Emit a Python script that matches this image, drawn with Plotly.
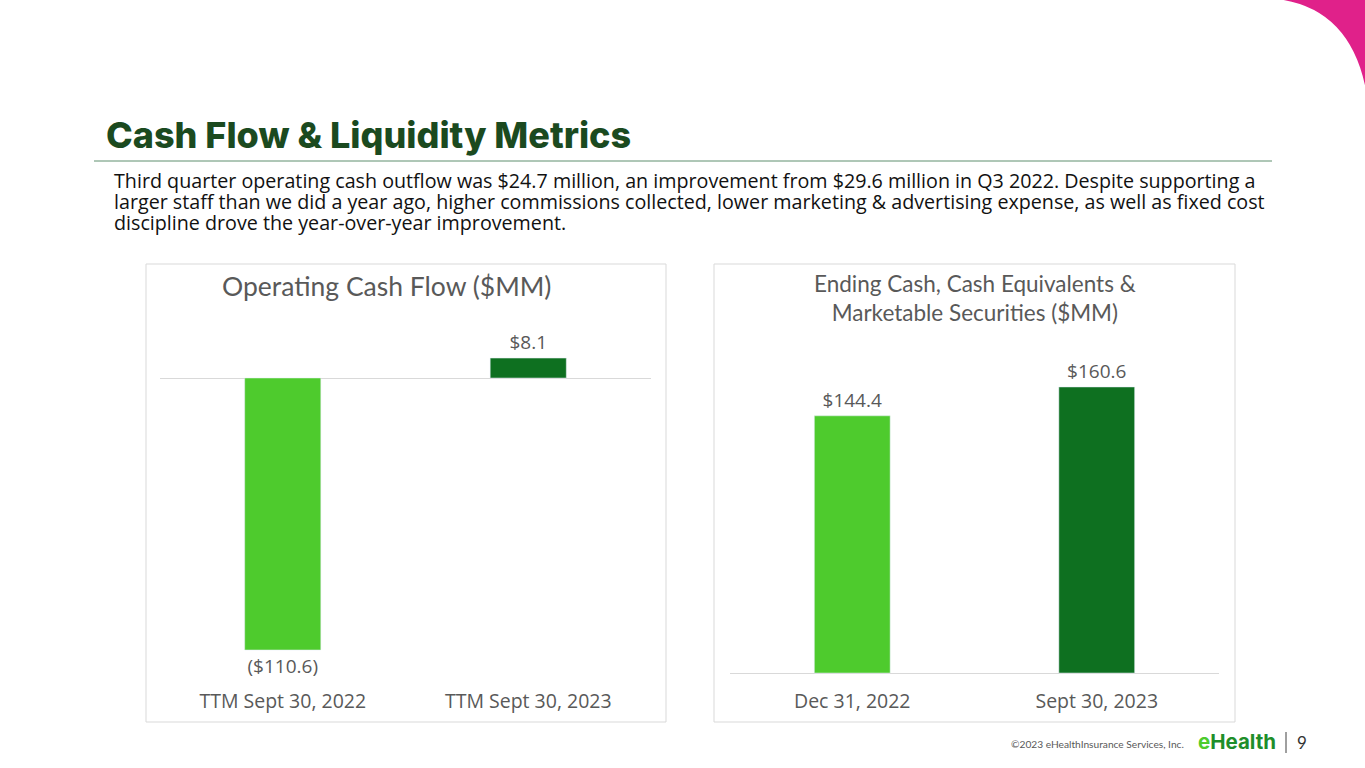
import plotly.graph_objects as go

W, H = 1365, 768

# ---------------- data ----------------
ocf_categories = ["TTM Sept 30, 2022", "TTM Sept 30, 2023"]
ocf_values = [-110.6, 8.1]
cash_categories = ["Dec 31, 2022", "Sept 30, 2023"]
cash_values = [144.4, 160.6]
bar_colors = ["#4ECB2D", "#0E7020"]

title_text = "Cash Flow & Liquidity Metrics"
body_lines = [
    "Third quarter operating cash outflow was $24.7 million, an improvement from $29.6 million in Q3 2022. Despite supporting a",
    "larger staff than we did a year ago, higher commissions collected, lower marketing & advertising expense, as well as fixed cost",
    "discipline drove the year-over-year improvement.",
]
left_title = "Operating Cash Flow ($MM)"
right_title = "Ending Cash, Cash Equivalents &<br>Marketable Securities ($MM)"


def fmt(v):
    return f"(${abs(v):.1f})" if v < 0 else f"${v:.1f}"


def px(x):
    return x / W


def py(y):
    return 1 - y / H


fig = go.Figure()

labelfont = dict(family="Open Sans", size=19, color="#595959")
fig.add_trace(go.Bar(
    x=ocf_categories, y=ocf_values, marker_color=bar_colors, width=0.31,
    text=[fmt(v) for v in ocf_values], textposition="outside", cliponaxis=False,
    textfont=labelfont, xaxis="x", yaxis="y", hoverinfo="skip",
))
fig.add_trace(go.Bar(
    x=cash_categories, y=cash_values, marker_color=bar_colors, width=0.31,
    text=[fmt(v) for v in cash_values], textposition="outside", cliponaxis=False,
    textfont=labelfont, xaxis="x2", yaxis="y2", hoverinfo="skip",
))

# axis geometry (pixels)
L_top, L_bot, L_zero, L_scale = 330, 687, 378, 2.459
R_top, R_bot, R_zero, R_scale = 330, 687, 673, 1.781

tickfont = dict(family="Open Sans", size=19.5, color="#595959")

fig.update_layout(
    width=W, height=H, margin=dict(l=0, r=0, t=0, b=0),
    paper_bgcolor="white", plot_bgcolor="white", showlegend=False,
    xaxis=dict(domain=[px(160), px(651)], showgrid=False, showline=False,
               ticks="", tickfont=tickfont, fixedrange=True),
    yaxis=dict(domain=[py(L_bot), py(L_top)],
               range=[-(L_bot - L_zero) / L_scale, (L_zero - L_top) / L_scale],
               showgrid=False, showticklabels=False, zeroline=True,
               zerolinecolor="#d9d9d9", zerolinewidth=1, fixedrange=True),
    xaxis2=dict(domain=[px(730), px(1219)], anchor="y2", showgrid=False,
                showline=False, ticks="", tickfont=tickfont, fixedrange=True),
    yaxis2=dict(domain=[py(R_bot), py(R_top)], anchor="x2",
                range=[-(R_bot - R_zero) / R_scale, (R_zero - R_top) / R_scale],
                showgrid=False, showticklabels=False, zeroline=True,
                zerolinecolor="#d9d9d9", zerolinewidth=1, fixedrange=True),
)

shapes = []
for x0, x1 in [(146, 666), (714, 1235)]:
    shapes.append(dict(type="rect", xref="paper", yref="paper",
                       x0=px(x0), x1=px(x1), y0=py(722), y1=py(264),
                       line=dict(color="#d9d9d9", width=1), layer="below"))
shapes.append(dict(type="line", xref="paper", yref="paper",
                   x0=px(94), x1=px(1272), y0=py(161), y1=py(161),
                   line=dict(color="#5E8F6E", width=1)))
shapes.append(dict(
    type="path", xref="paper", yref="paper",
    path=(f"M {px(1277)},{py(-1)} L {px(1366)},{py(-1)} L {px(1366)},{py(90)} "
          f"Q {px(1350)},{py(8)} {px(1277)},{py(-1)} Z"),
    fillcolor="#E0218A", line=dict(width=0)))
shapes.append(dict(type="line", xref="paper", yref="paper",
                   x0=px(1286), x1=px(1286), y0=py(732), y1=py(753),
                   line=dict(color="#404040", width=1)))

ann = []
ann.append(dict(text=title_text, x=px(104), y=py(135), xref="paper", yref="paper",
                xanchor="left", yanchor="middle", showarrow=False,
                font=dict(family="Inter", size=36, weight=800, color="#1B4A1F")))
for i, line in enumerate(body_lines):
    ann.append(dict(text=line, x=px(112), y=py(180 + 21 * i), xref="paper", yref="paper",
                    xanchor="left", yanchor="middle", showarrow=False,
                    font=dict(family="Open Sans", size=19.7, color="#111111")))
ann.append(dict(text=left_title, x=px(386), y=py(286), xref="paper", yref="paper",
                xanchor="center", yanchor="middle", showarrow=False,
                font=dict(family="Lato", size=26.5, color="#595959")))
ann.append(dict(text=right_title, x=px(975), y=py(298), xref="paper", yref="paper",
                xanchor="center", yanchor="middle", showarrow=False,
                font=dict(family="Lato", size=22.5, color="#595959")))
ann.append(dict(text="©2023 eHealthInsurance Services, Inc.", x=px(1186), y=py(744),
                xref="paper", yref="paper", xanchor="right", yanchor="middle",
                showarrow=False, font=dict(family="Lato", size=10.2, color="#595959")))
ann.append(dict(text="<b><span style='color:#4ECB2D'>e</span>"
                     "<span style='color:#1E8E2A'>Health</span></b>",
                x=px(1196), y=py(741), xref="paper", yref="paper",
                xanchor="left", yanchor="middle", showarrow=False,
                font=dict(family="Inter", size=20.5)))
ann.append(dict(text="9", x=px(1302), y=py(742), xref="paper", yref="paper",
                xanchor="center", yanchor="middle", showarrow=False,
                font=dict(family="Lato", size=17, color="#333333")))

fig.update_layout(shapes=shapes, annotations=ann)
fig.write_html("out.html", config={"displayModeBar": False},
               post_script="document.body.style.margin='0';document.body.style.overflow='hidden';")
